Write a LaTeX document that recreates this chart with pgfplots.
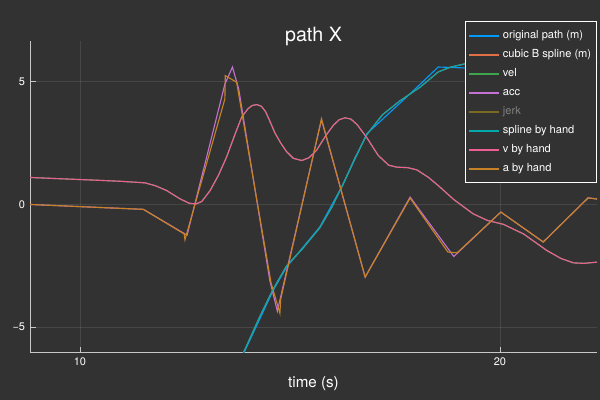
\documentclass[border=0pt]{standalone}
\usepackage{fontspec}
\setmainfont{TeX Gyre Heros}
\usepackage{pgfplots}
\pgfplotsset{compat=1.18}

\definecolor{bg}{RGB}{50,50,50}
\definecolor{fgaxis}{RGB}{200,200,200}
\definecolor{c1}{HTML}{009AFA}
\definecolor{c2}{HTML}{E36F47}
\definecolor{c3}{HTML}{3EA44E}
\definecolor{c4}{HTML}{C371D2}
\definecolor{c5}{HTML}{AC8D18}
\definecolor{c6}{HTML}{00A9AD}
\definecolor{c7}{HTML}{ED5E93}
\definecolor{c8}{HTML}{C68225}
\definecolor{jerktext}{RGB}{128,128,128}

% position: original path (polyline) and spline by hand
\pgfplotstableread{
t y
13.30 -8.20
13.93 -5.95
14.60 -3.50
14.92 -2.55
15.71 -0.92
16.27 0.84
16.83 2.88
17.86 4.51
18.53 5.60
19.20 5.56
20.50 5.55
22.31 5.55
}\pathorig

\pgfplotstableread{
t y
13.30 -8.20
13.93 -5.90
14.30 -4.50
14.60 -3.45
14.92 -2.50
15.30 -1.80
15.71 -0.95
16.00 -0.10
16.27 0.85
16.55 1.90
16.83 2.85
17.20 3.65
17.60 4.20
18.10 4.78
18.53 5.40
18.83 5.60
19.17 5.73
19.60 5.76
22.31 5.76
}\splinehand

% velocity
\pgfplotstableread{
t y
8.81 1.10
9.50 1.05
10.50 0.98
11.00 0.94
11.55 0.88
11.80 0.76
12.06 0.57
12.38 0.23
12.60 0.05
12.76 0.02
12.90 0.12
13.10 0.57
13.30 1.20
13.49 1.93
13.70 2.90
13.85 3.56
14.00 3.90
14.10 4.03
14.21 4.07
14.32 4.00
14.42 3.78
14.52 3.40
14.64 2.92
14.78 2.50
14.92 2.15
15.08 1.88
15.28 1.79
15.45 1.90
15.63 2.20
15.85 2.80
16.03 3.22
16.17 3.45
16.31 3.53
16.45 3.48
16.60 3.25
16.83 2.72
17.10 2.00
17.35 1.60
17.54 1.52
17.80 1.50
18.02 1.41
18.30 1.10
18.57 0.71
18.90 0.20
19.36 -0.38
19.70 -0.65
20.08 -0.81
20.56 -1.20
21.11 -1.87
21.45 -2.20
21.75 -2.38
22.00 -2.40
22.31 -2.35
}\vel

% acceleration
\pgfplotstableread{
t y
8.81 0.00
11.51 -0.20
12.45 -1.15
12.55 -1.25
13.45 4.90
13.63 5.60
13.78 4.70
14.52 -3.10
14.70 -4.35
14.80 -3.60
15.75 3.45
16.79 -2.96
17.86 0.30
18.90 -2.12
20.02 -0.31
21.03 -1.53
22.10 0.27
22.31 0.22
}\acc

\pgfplotstableread{
t y
8.81 0.00
11.51 -0.20
12.48 -1.20
12.50 -1.44
13.45 4.30
13.46 5.25
13.73 4.98
14.55 -3.20
14.76 -4.43
14.78 -3.85
15.75 3.49
16.79 -2.96
17.86 0.26
18.76 -1.94
18.98 -1.97
20.02 -0.31
21.03 -1.53
22.10 0.27
22.31 0.22
}\acchand

\begin{document}
\color{white}%
\begin{tikzpicture}
\fill[bg] (0,0) rectangle (15cm,10cm);
\begin{axis}[
    at={(0.75cm,1.1825cm)}, anchor=south west,
    scale only axis, width=14.175cm, height=7.7925cm,
    xmin=8.81, xmax=22.31, ymin=-6.04, ymax=6.66,
    axis x line=bottom, axis y line=left,
    axis line style={-, fgaxis, line width=0.7pt},
    xtick={10,20}, ytick={-5,0,5},
    yticklabels={−5,0,5},
    tick style={fgaxis, line width=0.5pt},
    major tick length=0.14cm, tick align=inside,
    grid=major, major grid style={white, opacity=0.1, line width=0.5pt},
    tick label style={font=\fontsize{7.8}{9}\selectfont},
    /pgf/number format/assume math mode=true,
    every axis plot/.append style={line width=0.8pt},
    legend cell align=left,
    legend style={at={(1,1.064)}, anchor=north east, fill=bg, draw=white,
        line width=0.7pt, font=\fontsize{7.9}{9}\selectfont,
        inner xsep=2pt, inner ysep=5.9pt, row sep=5pt,
        nodes={text height=6.5pt, text depth=2pt, inner ysep=0pt, inner xsep=1.8pt}},
    legend image code/.code={\draw[#1, line width=1.4pt] (0cm,0cm) -- (0.75cm,0cm);},
]
\addplot[color=c1] table {\pathorig};
\addlegendentry{original path (m)}
\addplot[color=c2] table {\splinehand};
\addlegendentry{cubic B spline (m)}
\addplot[color=c3] table {\vel};
\addlegendentry{vel}
\addplot[color=c4] table {\acc};
\addlegendentry{acc}
\addlegendimage{color=c5!60!bg}
\addlegendentry[text=jerktext]{jerk}
\addplot[color=c6] table {\splinehand};
\addlegendentry{spline by hand}
\addplot[color=c7] table {\vel};
\addlegendentry{v by hand}
\addplot[color=c8] table {\acchand};
\addlegendentry{a by hand}
\end{axis}
\node[font=\fontsize{14}{16}\selectfont] at (7.8375cm,9.1cm) {path X};
\node[font=\fontsize{10.8}{12}\selectfont] at (7.8375cm,0.4cm) {time (s)};
\end{tikzpicture}
\end{document}
